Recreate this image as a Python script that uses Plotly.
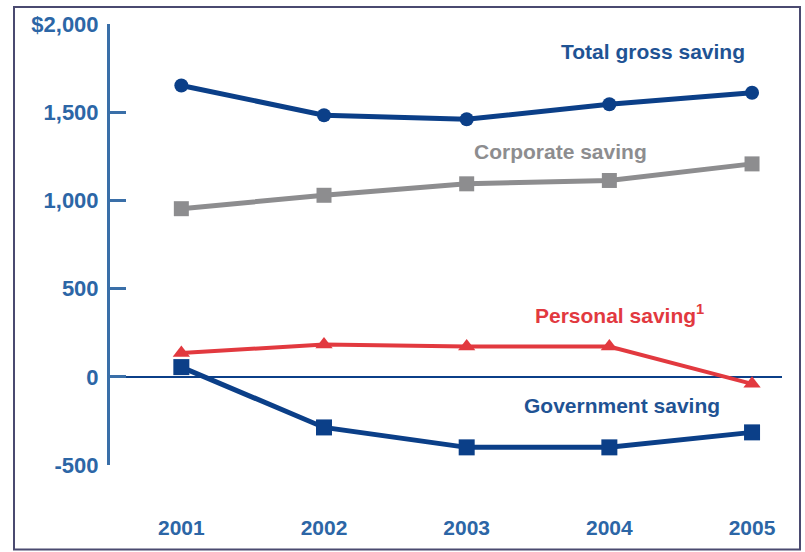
import plotly.graph_objects as go

# Saving by sector, billions of dollars
years = [2001, 2002, 2003, 2004, 2005]
total_gross = [1651, 1483, 1460, 1545, 1610]
corporate = [953, 1029, 1094, 1113, 1207]
personal = [135, 183, 172, 172, -40]
government = [55, -287, -400, -400, -315]

y_ticks = [-500, 0, 500, 1000, 1500, 2000]
y_tick_text = ["-500", "0", "500", "1,000", "1,500", "$2,000"]

NAVY = "#0b3f88"
LABEL_BLUE = "#1f5394"
TICK_BLUE = "#2c66a6"
AXIS_BLUE = "#3a6fa8"
GRAY = "#8d8d8f"
RED = "#e2393f"

W, H = 805, 552
L, R, T, B = 110, 23, 21, 87
PW, PH = W - L - R, H - T - B


def px(x):
    return (x - L) / PW


def py(y):
    return (H - B - y) / PH


fig = go.Figure()

fig.add_trace(go.Scatter(
    x=years, y=corporate, mode="lines+markers",
    line=dict(color=GRAY, width=5),
    marker=dict(symbol="square", size=15, color=GRAY),
))
fig.add_trace(go.Scatter(
    x=years, y=total_gross, mode="lines+markers",
    line=dict(color=NAVY, width=5),
    marker=dict(symbol="circle", size=14, color=NAVY),
))
fig.add_trace(go.Scatter(
    x=years, y=government, mode="lines+markers",
    line=dict(color=NAVY, width=5),
    marker=dict(symbol="square", size=16, color=NAVY),
))
fig.add_trace(go.Scatter(
    x=years, y=personal, mode="lines+markers",
    line=dict(color=RED, width=4),
    marker=dict(symbol="triangle-up", size=15, color=RED),
))

label_font = "Liberation Sans, Arial, sans-serif"
labels = [
    ("Total gross saving", 653, 49, LABEL_BLUE),
    ("Corporate saving", 560, 149, GRAY),
    ("Personal saving<sup>1</sup>", 619, 313, RED),
    ("Government saving", 622, 405, LABEL_BLUE),
]
for text, x, y, color in labels:
    fig.add_annotation(
        text=text, x=px(x), y=py(y), xref="paper", yref="paper",
        xanchor="center", yanchor="middle", showarrow=False,
        font=dict(family=label_font, size=21, color=color, weight="bold"),
    )

# outer frame
fig.add_shape(
    type="rect", xref="paper", yref="paper",
    x0=px(14), x1=px(800), y0=py(550), y1=py(4),
    line=dict(color="#4a4a70", width=2), layer="below",
)

x_tick_font = dict(family="Liberation Sans, Arial, sans-serif", size=21,
                   color=TICK_BLUE, weight="bold")
y_tick_font = dict(family="Liberation Sans, Arial, sans-serif", size=22,
                   color=TICK_BLUE, weight="bold")

fig.update_layout(
    width=W, height=H,
    margin=dict(l=L, r=R, t=T, b=B, pad=0),
    paper_bgcolor="white", plot_bgcolor="white",
    showlegend=False,
    xaxis=dict(
        range=[2000.5, 2005.21], tickmode="array", tickvals=years,
        ticktext=[str(y) for y in years], showgrid=False, zeroline=False,
        showline=False, ticks="", tickfont=x_tick_font, ticklabelstandoff=48,
        fixedrange=True,
    ),
    yaxis=dict(
        range=[-500, 2000], tickmode="array", tickvals=y_ticks,
        ticktext=y_tick_text, showgrid=False,
        zeroline=True, zerolinecolor=NAVY, zerolinewidth=2,
        showline=True, linecolor=AXIS_BLUE, linewidth=3,
        ticks="inside", ticklen=16, tickwidth=3, tickcolor=AXIS_BLUE,
        tickfont=y_tick_font, ticklabelstandoff=4, fixedrange=True,
    ),
)

fig.write_html("out.html")
